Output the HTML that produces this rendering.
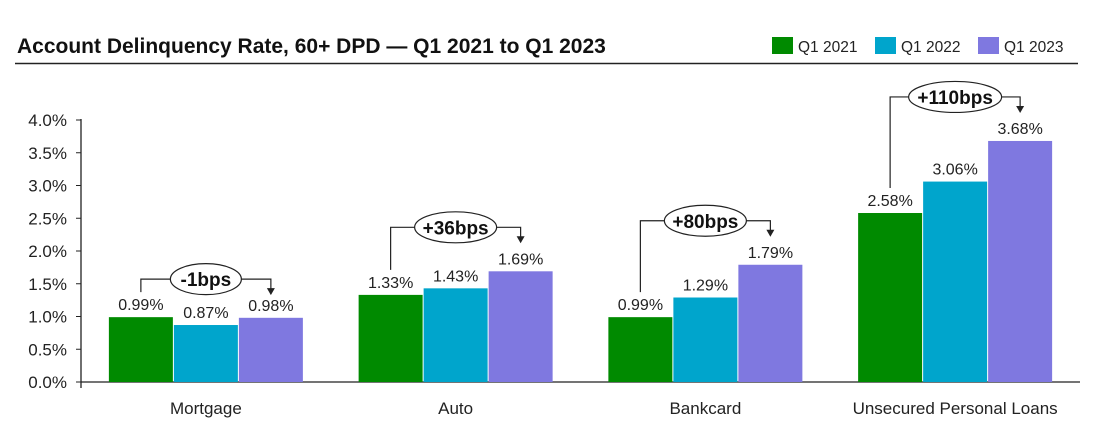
<!DOCTYPE html>
<html><head><meta charset="utf-8"><style>
body{margin:0;background:#fff;font-family:"Liberation Sans",Arial,sans-serif}
svg text{font-family:"Liberation Sans",Arial,sans-serif}
</style></head><body>
<svg id="c" width="1105" height="438" xmlns="http://www.w3.org/2000/svg">
<text x="17" y="53" font-size="21" font-weight="bold" fill="#111">Account Delinquency Rate, 60+ DPD — Q1 2021 to Q1 2023</text>
<line x1="15" y1="63.5" x2="1078" y2="63.5" stroke="#222" stroke-width="1.5"/>
<g id="legend"></g>
<g id="yaxis"></g>
<g id="bars"></g>
<g id="ann"></g>
</svg>
<script>
const categories=["Mortgage","Auto","Bankcard","Unsecured Personal Loans"];
const seriesNames=["Q1 2021","Q1 2022","Q1 2023"];
const q12021=[0.99,1.33,0.99,2.58];
const q12022=[0.87,1.43,1.29,3.06];
const q12023=[0.98,1.69,1.79,3.68];
const changeLabels=["-1bps","+36bps","+80bps","+110bps"];
const yTicks=[0,0.5,1,1.5,2,2.5,3,3.5,4];
const colors=["#008a00","#00a5cc","#7f78e0"];
const NS="http://www.w3.org/2000/svg";
const X0=81,X1=1080,Y0=382,PPU=65.5;
const bandW=(X1-X0)/categories.length;
const y=v=>Y0-v*PPU;
const cx=i=>X0+bandW*(i+0.5);
function mk(p,tag,a){const e=document.createElementNS(NS,tag);for(const k in a)e.setAttribute(k,a[k]);p.appendChild(e);return e;}
const lg=document.getElementById('legend');
seriesNames.forEach((n,i)=>{const lx=772+i*103;
const r=mk(lg,'rect',{x:lx,y:37,width:21,height:17,fill:colors[i]});


const t=mk(lg,'text',{x:lx+26,y:52,'font-size':15.5,fill:'#222'});t.textContent=n;

});
const ya=document.getElementById('yaxis');
mk(ya,'line',{x1:X0,y1:y(4)-1,x2:X0,y2:Y0+6,stroke:'#222','stroke-width':1.3});
mk(ya,'line',{x1:X0,y1:Y0,x2:X1,y2:Y0,stroke:'#222','stroke-width':1.3});
yTicks.forEach(v=>{mk(ya,'line',{x1:X0-5,y1:y(v),x2:X0,y2:y(v),stroke:'#222'});
const t=mk(ya,'text',{x:X0-14,y:y(v)+6,'font-size':17,fill:'#222','text-anchor':'end'});t.textContent=v.toFixed(1)+'%';

});
const bg=document.getElementById('bars');
const series=[q12021,q12022,q12023];
const bw=65;
categories.forEach((c,i)=>{
 const t=mk(bg,'text',{x:cx(i),y:Y0+32,'font-size':17,fill:'#222','text-anchor':'middle'});t.textContent=c;
 
 
 series.forEach((s,j)=>{const bx=cx(i)-bw*1.5+j*bw;
  const r=mk(bg,'rect',{x:bx+0.5,y:y(s[i]),width:bw-1,height:s[i]*PPU,fill:colors[j]});
  
  
  const l=mk(bg,'text',{x:bx+bw/2,y:y(s[i])-7,'font-size':16,fill:'#222','text-anchor':'middle'});l.textContent=s[i].toFixed(2)+'%';
  
  
 });
});
const an=document.getElementById('ann');
categories.forEach((c,i)=>{
 const top=Math.max(q12021[i],q12022[i],q12023[i]);
 const by=y(top)-(i===0?38:44);
 const gx=cx(i)-bw,px=cx(i)+bw;
 const ew=changeLabels[i].length*11+16;
 const g=mk(an,'g',{});
 
 
 mk(g,'polyline',{points:`${gx},${y(q12021[i])-25} ${gx},${by} ${cx(i)-ew/2},${by}`,fill:'none',stroke:'#222','stroke-width':1.2});
 mk(g,'polyline',{points:`${cx(i)+ew/2},${by} ${px},${by} ${px},${by+10}`,fill:'none',stroke:'#222','stroke-width':1.2});
 mk(g,'polygon',{points:`${px-4},${by+9} ${px+4},${by+9} ${px},${by+16}`,fill:'#222'});
 mk(g,'ellipse',{cx:cx(i),cy:by,rx:ew/2,ry:15.5,fill:'#fff',stroke:'#222','stroke-width':1.2});
 const t=mk(g,'text',{x:cx(i),y:by+7,'font-size':19,'font-weight':'bold',fill:'#111','text-anchor':'middle'});t.textContent=changeLabels[i];
});
</script>
</body></html>
